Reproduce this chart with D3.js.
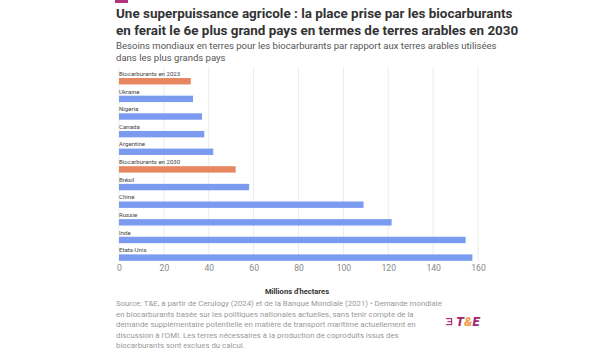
<!DOCTYPE html>
<html><head><meta charset="utf-8">
<script src="https://cdn.jsdelivr.net/npm/d3@7"></script>
<style>body{margin:0;background:#fff;font-family:Roboto,"Noto Sans",sans-serif;}</style>
</head><body><svg id="c" width="600" height="359"></svg>
<script>
const categories = ["Biocarburants en 2023","Ukraine","Nigeria","Canada","Argentine","Biocarburants en 2030","Brésil","Chine","Russie","Inde","Etats-Unis"];
const values = [32, 33, 37, 38, 42, 52, 58, 109, 121.5, 154.5, 157.5];
const highlight = [true,false,false,false,false,true,false,false,false,false,false];
const ticks = [0,20,40,60,80,100,120,140,160];

const svg = d3.select("#c");
svg.append("rect").attr("x",115).attr("y",0).attr("width",13).attr("height",3).attr("fill","#b0357a");

const title = ["Une superpuissance agricole : la place prise par les biocarburants","en ferait le 6e plus grand pays en termes de terres arables en 2030"];
svg.selectAll(".t").data(title).enter().append("text").attr("x",116).attr("y",(d,i)=>18+i*17)
  .attr("font-size",13.45).attr("font-weight",700).attr("fill","#333").text(d=>d);
const sub = ["Besoins mondiaux en terres pour les biocarburants par rapport aux terres arables utilisées","dans les plus grands pays"];
svg.selectAll(".s").data(sub).enter().append("text").attr("x",116).attr("y",(d,i)=>49+i*11.5)
  .attr("font-size",9.55).attr("fill","#555").text(d=>d);

const x = d3.scaleLinear().domain([0,160]).range([119,478]);
const y = d3.scaleBand().domain(categories).range([68,262]).paddingInner(0).paddingOuter(0);

const g = svg.append("g");
g.selectAll(".grid").data(ticks).enter().append("line")
  .attr("x1",d=>x(d)).attr("x2",d=>x(d)).attr("y1",67).attr("y2",261)
  .attr("stroke","#ebebeb").attr("stroke-width",1);

const axis = d3.axisBottom(x).tickValues(ticks).tickSize(0).tickPadding(0);
const ax = svg.append("g").attr("transform","translate(0,265)").call(axis);
ax.select(".domain").remove();
ax.selectAll("text").attr("font-size",8.6).attr("fill","#888").attr("font-family","Roboto,sans-serif").attr("dy","0.71em");

const bh = 6.4;
g.selectAll(".bar").data(categories).enter().append("rect")
  .attr("x",x(0)).attr("y",d=>y(d)+y.bandwidth()-bh-1.2)
  .attr("width",(d,i)=>x(values[i])-x(0)).attr("height",bh)
  .attr("fill",(d,i)=>highlight[i]?"#e8875f":"#7b9bf0");
g.selectAll(".lab").data(categories).enter().append("text")
  .attr("x",x(0)).attr("y",d=>y(d)+y.bandwidth()-bh-3.3)
  .attr("font-size",6.1).attr("fill","#444").text(d=>d);

svg.append("text").attr("x",297).attr("y",294).attr("text-anchor","middle")
  .attr("font-size",7.6).attr("font-weight",700).attr("fill","#333").text("Millions d'hectares");

const src = ["Source: T&E, à partir de Cerulogy (2024) et de la Banque Mondiale (2021) • Demande mondiale",
"en biocarburants basée sur les politiques nationales actuelles, sans tenir compte de la",
"demande supplémentaire potentielle en matière de transport maritime actuellement en",
"discussion à l'OMI. Les terres nécessaires à la production de coproduits issus des",
"biocarburants sont exclues du calcul."];
svg.selectAll(".src").data(src).enter().append("text").attr("x",116).attr("y",(d,i)=>306+i*10.6)
  .attr("font-size",7.8).attr("fill","#999").text(d=>d);

// logo
const lg = svg.append("g").attr("transform","translate(446,322)");
[0,3,6].forEach((dy,i)=>lg.append("rect").attr("x",i===1?1.5:0).attr("y",dy-4).attr("width",i===1?4:5.5).attr("height",1.2).attr("fill","#b0357a"));
lg.append("rect").attr("x",5).attr("y",-4).attr("width",1.2).attr("height",7.2).attr("fill","#b0357a");
const lt = lg.append("text").attr("x",10).attr("y",4).attr("font-size",13).attr("font-weight",900).attr("font-style","italic");
lt.append("tspan").attr("fill","#a02a6e").text("T");
lt.append("tspan").attr("fill","#f0a050").text("&");
lt.append("tspan").attr("fill","#a02a6e").text("E");
</script></body></html>
